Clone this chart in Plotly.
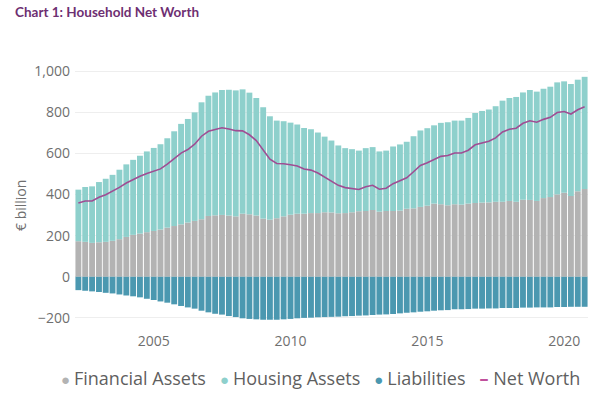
import pandas as pd
import plotly.graph_objects as go

quarters = pd.date_range(start="2002-03-31", periods=75, freq="QE")

financial_assets = [173, 170, 165, 168, 170, 175, 183, 194, 204, 210, 217, 223, 230, 239, 247, 255, 264, 272, 280,
                    296, 299, 301, 298, 294, 307, 304, 298, 283, 278, 285, 294, 302, 307, 307, 310, 310, 314, 313,
                    309, 310, 314, 319, 320, 325, 317, 320, 320, 322, 331, 333, 340, 346, 356, 353, 348, 353,
                    351, 356, 359, 361, 362, 365, 365, 369, 365, 375, 374, 369, 383, 388, 401, 409, 393, 416, 427]
housing_assets = [251, 267, 275, 293, 307, 321, 338, 353, 365, 379, 393, 404, 415, 435, 461, 489, 504, 528, 569,
                  585, 598, 608, 612, 613, 605, 592, 572, 542, 503, 475, 463, 448, 434, 417, 408, 392, 368, 350,
                  330, 316, 307, 295, 306, 306, 293, 294, 314, 322, 326, 351, 372, 377, 381, 396, 404, 407,
                  409, 417, 438, 446, 452, 465, 492, 501, 510, 522, 535, 532, 532, 537, 545, 542, 545, 543, 546]
liabilities = [-65, -68, -71, -74, -78, -81, -86, -91, -95, -100, -107, -113, -120, -126, -134, -142, -149, -155, -165,
               -173, -180, -184, -191, -196, -202, -205, -207, -209, -209, -209, -207, -205, -202, -200, -199, -197, -196, -195,
               -194, -192, -191, -189, -188, -186, -184, -183, -181, -178, -175, -173, -170, -168, -165, -163, -162, -158,
               -158, -157, -155, -155, -154, -154, -152, -152, -152, -150, -150, -149, -149, -149, -147, -147, -146, -146, -146]
net_worth = [359, 369, 369, 387, 399, 415, 435, 456, 474, 489, 503, 514, 525, 548, 574, 602, 619, 645, 684,
             708, 717, 725, 719, 711, 710, 691, 663, 616, 572, 551, 550, 545, 539, 524, 519, 505, 486, 468,
             445, 434, 430, 425, 438, 445, 426, 431, 453, 466, 482, 511, 542, 555, 572, 586, 590, 602,
             602, 616, 642, 652, 660, 676, 705, 718, 723, 747, 759, 752, 766, 776, 799, 804, 792, 813, 827]

tick_years = ["2005", "2010", "2015", "2020"]
y_ticks = [-200, 0, 200, 400, 600, 800, 1000]
series_names = ["Financial Assets", "Housing Assets", "Liabilities", "Net Worth"]

c_fin = "#b3b3b3"
c_house = "#8ed0cc"
c_liab = "#4b98b0"
c_nw = "#a04d93"
c_nw_legend = "#c0509c"
font_family = "Open Sans, Noto Sans, sans-serif"

fig = go.Figure()
fig.add_bar(x=quarters, y=financial_assets, name=series_names[0], marker_color=c_fin, marker_line_width=0)
fig.add_bar(x=quarters, y=housing_assets, name=series_names[1], marker_color=c_house, marker_line_width=0)
fig.add_bar(x=quarters, y=liabilities, name=series_names[2], marker_color=c_liab, marker_line_width=0)
fig.add_scatter(x=quarters, y=net_worth, mode="lines", name=series_names[3],
                line=dict(color=c_nw, width=1.6))

# legend line built as text (circle markers for bars, dash for the line)
legend_cols = [c_fin, c_house, c_liab]
parts = []
for nm, col in zip(series_names[:3], legend_cols):
    parts.append(f"<span style='color:{col};font-size:15px'>● </span>{nm}")
parts.append(f"<span style='color:{c_nw_legend}'><b>– </b></span>{series_names[3]}")
legend_text = "   ".join(parts)

W, H = 614, 399
L, R, T, B = 75, 26, 61, 77
pw, ph = W - L - R, H - T - B


def px_x(wx):
    return (wx - L) / pw


def px_y(wy):
    return (H - B - wy) / ph


fig.update_layout(
    width=W, height=H,
    barmode="relative", bargap=0.13,
    paper_bgcolor="white", plot_bgcolor="white",
    margin=dict(l=L, r=R, t=T, b=B, autoexpand=False),
    font=dict(family=font_family, color="#6f6f6f", size=14),
    showlegend=False,
    xaxis=dict(type="date", range=["2002-02-14", "2020-11-14"],
               tickvals=[pd.Timestamp(y + "-01-01") for y in tick_years], ticktext=tick_years,
               showgrid=False, showline=False, zeroline=False, ticks="", automargin=False,
               ticklabelstandoff=9, tickfont=dict(size=14, color="#6f6f6f")),
    yaxis=dict(range=[-220, 1050], tickvals=y_ticks, tickformat=",d",
               showgrid=True, gridcolor="#eeeeee", gridwidth=1, zeroline=False,
               showline=False, ticks="", ticklabelstandoff=4, automargin=False,
               tickfont=dict(size=14, color="#6f6f6f")),
    annotations=[
        dict(text="Chart 1: Household Net Worth", xref="paper", yref="paper",
             x=px_x(13), y=px_y(12), xanchor="left", yanchor="middle", showarrow=False,
             font=dict(family="Lato, sans-serif", size=13.5, color="#6e2f72", weight="bold")),
        dict(text="€ billion", xref="paper", yref="paper", x=px_x(20), y=px_y(206),
             xanchor="center", yanchor="middle", textangle=-90, showarrow=False,
             font=dict(size=14, color="#6f6f6f")),
        dict(text=legend_text, xref="paper", yref="paper", x=px_x(320), y=px_y(378),
             xanchor="center", yanchor="middle", showarrow=False,
             font=dict(size=18, color="#5f5f5f")),
    ],
)

fig.write_html("out.html", config={"displayModeBar": False},
               post_script="document.body.style.margin='0';")
